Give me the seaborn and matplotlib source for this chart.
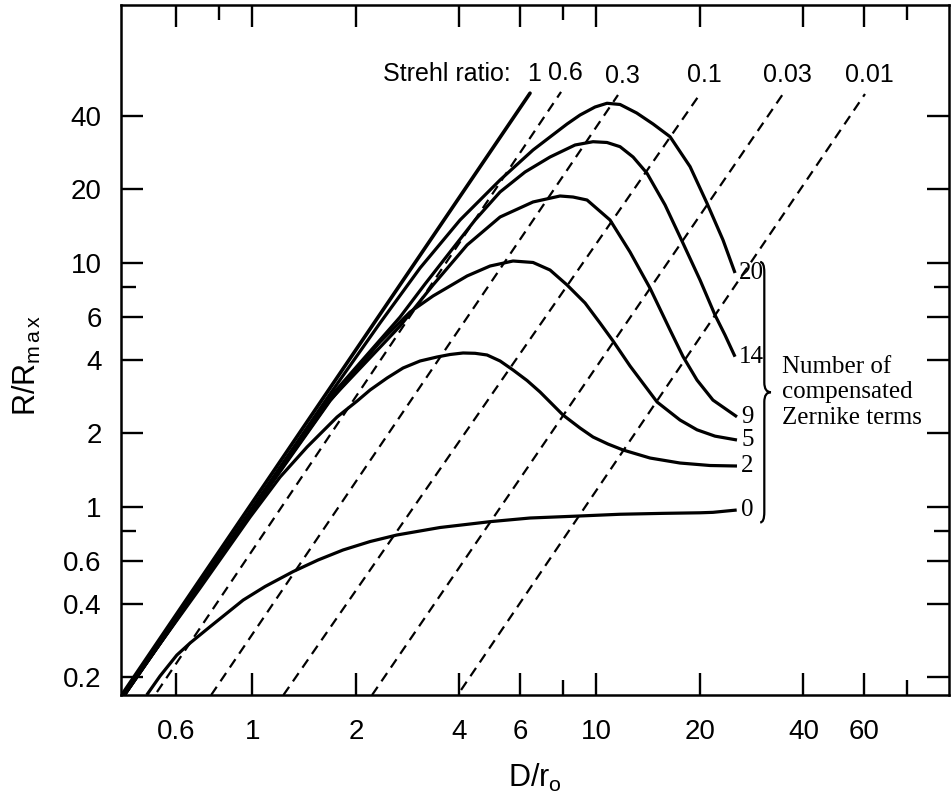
import numpy as np
import pandas as pd
import matplotlib
matplotlib.use("Agg")
import matplotlib.pyplot as plt
import seaborn as sns
from matplotlib.path import Path
from matplotlib.patches import PathPatch
from matplotlib.ticker import FixedLocator, NullFormatter

# ---------------- data ----------------
terms = ["20", "14", "9", "5", "2", "0"]

x_20 = [0.4265, 0.985, 1.682, 2.35, 3.073, 4.016, 5.25, 6.546, 7.335, 8.22, 8.967, 9.913, 10.74, 11.72, 13.10, 14.62, 16.38, 18.73, 20.98, 23.35, 25.31]
y_20 = [0.171, 0.962, 2.902, 5.67, 9.53, 14.99, 21.87, 29.02, 32.81, 37.09, 40.37, 43.54, 45.10, 44.59, 41.15, 37.09, 32.90, 24.80, 17.55, 12.41, 9.09]

x_14 = [0.4265, 0.985, 1.682, 2.688, 3.177, 3.755, 4.441, 5.25, 6.205, 7.335, 8.672, 9.781, 10.74, 11.72, 12.79, 14.04, 15.84, 17.87, 20.02, 22.13, 23.66, 25.31]
y_14 = [0.171, 0.953, 2.82, 6.0, 8.195, 11.08, 14.99, 19.53, 23.58, 27.16, 30.42, 31.38, 31.15, 29.94, 27.16, 23.29, 17.28, 12.03, 8.511, 6.116, 5.065, 4.126]

x_9 = [0.4265, 0.985, 1.682, 2.688, 3.352, 4.21, 5.25, 6.546, 7.843, 8.556, 9.397, 10.96, 12.53, 14.33, 16.38, 17.87, 19.62, 21.83, 25.64]
y_9 = [0.171, 0.944, 2.74, 5.51, 8.12, 11.84, 15.42, 17.77, 18.80, 18.62, 18.10, 14.99, 11.08, 7.87, 5.31, 4.13, 3.31, 2.74, 2.34]

x_5 = [0.4265, 0.985, 1.682, 2.35, 2.873, 3.352, 3.755, 4.21, 4.909, 5.726, 6.546, 7.335, 8.22, 9.273, 10.25, 11.18, 12.53, 15.02, 17.51, 19.62, 22.13, 25.64]
y_5 = [0.171, 0.935, 2.72, 4.74, 6.29, 7.32, 8.04, 8.84, 9.71, 10.18, 10.04, 9.35, 8.12, 6.85, 5.67, 4.79, 3.78, 2.69, 2.27, 2.07, 1.95, 1.88]

x_2 = [0.4208, 0.7046, 0.985, 1.204, 1.442, 1.763, 2.016, 2.199, 2.464, 2.742, 3.073, 3.443, 3.755, 4.099, 4.441, 4.811, 5.25, 5.726, 6.289, 6.86, 8.0, 8.967, 9.781, 10.81, 11.96, 14.33, 17.51, 21.4, 25.64]
y_2 = [0.1695, 0.465, 0.909, 1.326, 1.76, 2.336, 2.716, 3.014, 3.375, 3.709, 3.963, 4.115, 4.213, 4.274, 4.261, 4.194, 3.963, 3.64, 3.296, 2.958, 2.38, 2.105, 1.934, 1.81, 1.711, 1.586, 1.513, 1.478, 1.471]

x_0 = [0.493, 0.5391, 0.603, 0.6592, 0.7535, 0.94, 1.089, 1.313, 1.552, 1.835, 2.199, 2.629, 3.513, 4.909, 6.418, 8.967, 11.72, 15.63, 20.02, 21.83, 25.59]
y_0 = [0.1695, 0.2028, 0.247, 0.2769, 0.323, 0.415, 0.4719, 0.543, 0.6059, 0.666, 0.7212, 0.767, 0.8234, 0.87, 0.9006, 0.918, 0.933, 0.941, 0.946, 0.950, 0.971]

strehl = ["1", "0.6", "0.3", "0.1", "0.03", "0.01"]
strehl_x0 = [0.4208, 0.528, 0.7587, 1.231, 2.228, 4.043]
strehl_y0 = [0.1727, 0.1743, 0.1694, 0.1694, 0.1694, 0.1777]
strehl_x1 = [6.415, 7.896, 11.56, 20.02, 34.88, 60.4]
strehl_y1 = [49.6, 50.2, 48.77, 49.23, 49.23, 49.23]

xticks = [0.6, 1, 2, 4, 6, 10, 20, 40, 60]
xtick_labels = ["0.6", "1", "2", "4", "6", "10", "20", "40", "60"]
xminor_bottom = [8, 80]
xminor_top = [0.8, 8, 80]
yticks = [0.2, 0.4, 0.6, 1, 2, 4, 6, 10, 20, 40]
ytick_labels = ["0.2", "0.4", "0.6", "1", "2", "4", "6", "10", "20", "40"]
yminor = [0.8, 8]
xlim = (0.415, 106.0)
ylim = (0.1695, 114.0)

# ---------------- style ----------------
sns.set_theme(style="ticks")
plt.rcParams['font.family'] = ['Liberation Sans', 'DejaVu Sans']
plt.rcParams['mathtext.fontset'] = 'custom'
plt.rcParams['mathtext.rm'] = 'Liberation Sans'
plt.rcParams['mathtext.it'] = 'Liberation Sans:italic'
plt.rcParams['text.color'] = 'black'
plt.rcParams['axes.labelcolor'] = 'black'

fig = plt.figure(figsize=(9.51, 8.02), dpi=100)
fig.patch.set_facecolor('white')
ax = fig.add_axes([121 / 951, 107 / 802, 828 / 951, 690 / 802])
ax.set_xscale('log')
ax.set_yscale('log')
ax.set_xlim(*xlim)
ax.set_ylim(*ylim)

# curves
curve_x = [x_20, x_14, x_9, x_5, x_2, x_0]
curve_y = [y_20, y_14, y_9, y_5, y_2, y_0]
rows = []
for name, xs, ys in zip(terms, curve_x, curve_y):
    for order, (xv, yv) in enumerate(zip(xs, ys)):
        rows.append((name, order, xv, yv))
df = pd.DataFrame(rows, columns=["terms", "order", "x", "y"])
sns.lineplot(data=df, x="x", y="y", hue="terms", hue_order=terms,
             palette=["black"] * len(terms), sort=False, estimator=None,
             legend=False, lw=2.3, ax=ax, solid_joinstyle='round',
             solid_capstyle='butt')

# Strehl lines
srows = []
for s, a, b, c, d in zip(strehl, strehl_x0, strehl_y0, strehl_x1, strehl_y1):
    srows.append((s, a, b))
    srows.append((s, c, d))
sdf = pd.DataFrame(srows, columns=["S", "x", "y"])
sns.lineplot(data=sdf[sdf.S == "1"], x="x", y="y", color="black", lw=2.6,
             sort=False, estimator=None, ax=ax)
sns.lineplot(data=sdf[sdf.S != "1"], x="x", y="y", units="S", color="black",
             lw=1.6, sort=False, estimator=None, ax=ax, linestyle='--')
for line in ax.get_lines()[-5:]:
    line.set_dashes((4.5, 3.0))

# Strehl labels
for s, xe, ye in zip(strehl, strehl_x1, strehl_y1):
    ax.annotate(s, xy=(xe, ye), xytext=(3, 13.5), textcoords='offset points',
                ha='center', va='center', fontsize=18, color='black')
ax.annotate("Strehl ratio:", xy=(strehl_x1[0], strehl_y1[0]), xytext=(-14, 13.5),
            textcoords='offset points', ha='right', va='center', fontsize=18,
            color='black')

# curve labels
for name, xs, ys in zip(terms, curve_x, curve_y):
    ax.annotate(name, xy=(xs[-1], ys[-1]), xytext=(3, 0), textcoords='offset points',
                ha='left', va='center', fontsize=18, color='black',
                family=['Liberation Serif', 'DejaVu Serif'])

# brace
def to_axes(xv, yv):
    return ax.transAxes.inverted().transform(ax.transData.transform((xv, yv)))

end_x = max(xs[-1] for xs in curve_x)
tx, t = to_axes(end_x, y_20[-1])
_, b = to_axes(end_x, y_0[-1])
t += 0.016
b -= 0.018
m = 0.5 * (t + b)
xb = tx + 0.033
verts = [(xb - 0.005, t), (xb, t), (xb, t - 0.015), (xb, m + 0.014),
         (xb, m), (xb + 0.008, m), (xb, m), (xb, m - 0.014),
         (xb, b + 0.015), (xb, b), (xb - 0.005, b)]
codes = [Path.MOVETO, Path.CURVE3, Path.CURVE3, Path.LINETO,
         Path.CURVE3, Path.CURVE3, Path.CURVE3, Path.CURVE3,
         Path.LINETO, Path.CURVE3, Path.CURVE3]
ax.add_patch(PathPatch(Path(verts, codes), transform=ax.transAxes, fill=False,
                       lw=1.6, edgecolor='black', clip_on=False))
ax.text(xb + 0.021, m, "Number of\ncompensated\nZernike terms", transform=ax.transAxes,
        ha='left', va='center', fontsize=18, color='black', linespacing=1.2,
        family=['Liberation Serif', 'DejaVu Serif'])

# ticks
ax.set_xticks(xticks)
ax.set_xticklabels(xtick_labels)
ax.xaxis.set_minor_locator(FixedLocator(xminor_bottom))
ax.xaxis.set_minor_formatter(NullFormatter())
ax.set_yticks(yticks)
ax.set_yticklabels(ytick_labels)
ax.yaxis.set_minor_locator(FixedLocator(yminor))
ax.yaxis.set_minor_formatter(NullFormatter())
ax.tick_params(axis='both', which='major', direction='in', length=15.5, width=1.7,
               labelsize=20, colors='black')
ax.tick_params(axis='both', which='minor', direction='in', length=10.5, width=1.7,
               colors='black')
ax.tick_params(axis='x', which='both', bottom=True, top=False, pad=17)
ax.tick_params(axis='y', which='both', left=True, right=True, pad=14)

ax2 = ax.twiny()
ax2.set_xscale('log')
ax2.set_xlim(*xlim)
ax2.set_xticks(xticks)
ax2.xaxis.set_minor_locator(FixedLocator(xminor_top))
ax2.tick_params(axis='x', which='major', direction='in', length=15.5, width=1.7,
                labeltop=False, top=True, colors='black')
ax2.tick_params(axis='x', which='minor', direction='in', length=10.5, width=1.7,
                labeltop=False, top=True, colors='black')
ax2.xaxis.set_minor_formatter(NullFormatter())
for sp in ax2.spines.values():
    sp.set_visible(False)

for sp in ax.spines.values():
    sp.set_visible(True)
    sp.set_linewidth(1.8)
    sp.set_color('black')

ax.set_xlabel(r"D/r$_{\rm o}$", fontsize=22)
ax.set_ylabel(r"R/R$_{\rm m\,a\,x}$", fontsize=22)
ax.xaxis.set_label_coords(0.5, -0.097)
ax.yaxis.set_label_coords(-0.094, 0.478)

fig.savefig("out.png", dpi=100, facecolor='white')
